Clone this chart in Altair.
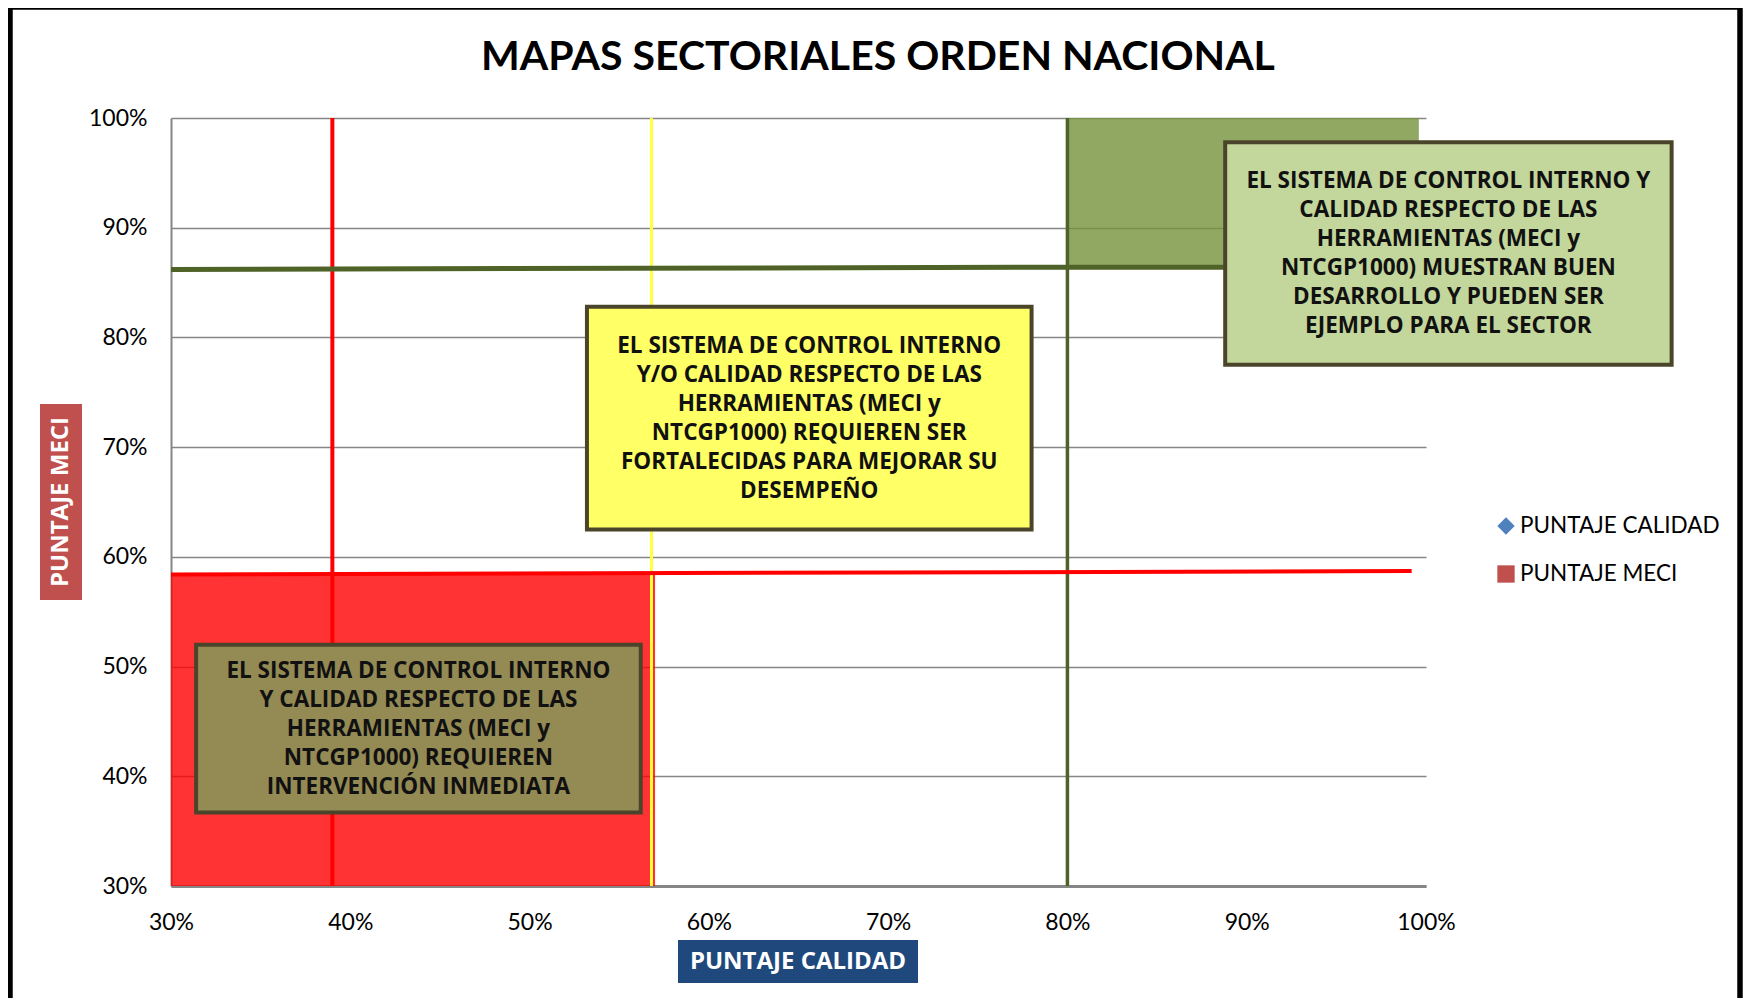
import altair as alt
import pandas as pd

# ---------------- data ----------------
chart_title = "MAPAS SECTORIALES ORDEN NACIONAL"
x_title = "PUNTAJE CALIDAD"
y_title = "PUNTAJE MECI"
tick_values = [0.3, 0.4, 0.5, 0.6, 0.7, 0.8, 0.9, 1.0]
legend_labels = ["PUNTAJE CALIDAD", "PUNTAJE MECI"]
legend_colors = ["#4F81BD", "#C0504D"]
legend_shapes = ["diamond", "square"]

# shaded zones
zone_x = [0.30, 0.80]
zone_x2 = [0.570, 0.996]
zone_y = [0.30, 0.863]
zone_y2 = [0.584, 1.00]
zone_color = ["#FF0000", "#76923C"]

# threshold lines (pairs of points)
red_v_x = [0.39, 0.39]
red_v_y = [1.00, 0.30]
yellow_v_x = [0.568, 0.568]
yellow_v_y = [1.00, 0.30]
green_v_x = [0.80, 0.80]
green_v_y = [1.00, 0.30]
green_h_x = [0.30, 0.80, 0.996]
green_h_y = [0.862, 0.864, 0.864]
red_h_x = [0.30, 0.992]
red_h_y = [0.584, 0.587]

# annotation boxes
box_x = [0.888, 0.532, 0.314]
box_x2 = [1.137, 0.780, 0.562]
box_y = [0.978, 0.828, 0.520]
box_y2 = [0.775, 0.625, 0.367]
box_fill = ["#C3D69B", "#FFFF66", "#948A54"]
box_lines = [
    ["EL SISTEMA DE CONTROL INTERNO Y", "CALIDAD RESPECTO DE LAS", "HERRAMIENTAS (MECI y",
     "NTCGP1000) MUESTRAN BUEN", "DESARROLLO Y PUEDEN SER", "EJEMPLO PARA EL SECTOR"],
    ["EL SISTEMA DE CONTROL INTERNO", "Y/O CALIDAD RESPECTO DE LAS", "HERRAMIENTAS (MECI y",
     "NTCGP1000) REQUIEREN SER", "FORTALECIDAS PARA MEJORAR SU", "DESEMPEÑO"],
    ["EL SISTEMA DE CONTROL INTERNO", "Y CALIDAD RESPECTO DE LAS", "HERRAMIENTAS (MECI y",
     "NTCGP1000) REQUIEREN", "INTERVENCIÓN INMEDIATA"],
]

# ---------------- chart ----------------
W, H = 1255, 768
LH = 29
xs = alt.Scale(domain=[0.3, 1.0], nice=False, zero=False)
ys = alt.Scale(domain=[0.3, 1.0], nice=False, zero=False)

X = lambda f="x": alt.X(f, type="quantitative", scale=xs,
                        axis=alt.Axis(values=tick_values, format=".0%", title=None, grid=False,
                                      ticks=False, domainColor="#868686", domainWidth=3,
                                      labelFont="Lato", labelFontSize=23, labelColor="black",
                                      labelPadding=25, labelFlush=False, labelOverlap=False))
Y = lambda f="y": alt.Y(f, type="quantitative", scale=ys,
                        axis=alt.Axis(values=tick_values, format=".0%", title=None, grid=True,
                                      gridColor="#868686", gridWidth=1.5, ticks=False,
                                      domainColor="#868686", domainWidth=2,
                                      labelFont="Lato", labelFontSize=23, labelColor="black",
                                      labelPadding=24, labelFlush=False, labelOverlap=False))

zones = pd.DataFrame({"x": zone_x, "x2": zone_x2, "y": zone_y, "y2": zone_y2, "c": zone_color})
zone_layer = alt.Chart(zones).mark_rect(opacity=0.8).encode(
    x=X(), x2="x2", y=Y(), y2="y2", color=alt.Color("c:N", scale=None))


def line(xv, yv, color, width):
    df = pd.DataFrame({"x": xv, "y": yv, "o": list(range(len(xv)))})
    return alt.Chart(df).mark_line(color=color, strokeWidth=width, strokeCap="butt").encode(
        x=X(), y=Y(), order="o:Q")


lines = [
    line(red_v_x, red_v_y, "#FF0000", 4),
    line(yellow_v_x, yellow_v_y, "#FFFF3C", 3),
    line(green_v_x, green_v_y, "#4F6228", 3.5),
    line(green_h_x, green_h_y, "#4F6228", 5),
    line(red_h_x, red_h_y, "#FF0000", 4),
]

boxes = pd.DataFrame({"x": box_x, "x2": box_x2, "y": box_y, "y2": box_y2, "fill": box_fill})

shadow_layer = alt.Chart(boxes).mark_rect(color="#000000", opacity=0.22, xOffset=5, yOffset=5).encode(
    x=X(), x2="x2", y=Y(), y2="y2")
box_layer = alt.Chart(boxes).mark_rect(stroke="#4A452A", strokeWidth=4).encode(
    x=X(), x2="x2", y=Y(), y2="y2", fill=alt.Fill("fill:N", scale=None))

text_layers = []
for i, lines_i in enumerate(box_lines):
    n = len(lines_i)
    df = pd.DataFrame({"cx": [(box_x[i] + box_x2[i]) / 2],
                       "cy": [(box_y[i] + box_y2[i]) / 2],
                       "text": ["\n".join(lines_i)]})
    text_layers.append(alt.Chart(df).mark_text(
        font="Open Sans", fontWeight="bold", fontSize=22.5, lineHeight=LH, lineBreak="\n",
        align="center", baseline="middle", color="#111111", yOffset=-(n - 1) / 2 * LH).encode(
        x=X("cx"), y=Y("cy"), text="text:N"))

one = alt.Data(values=[{}])

title_layer = alt.Chart(one).mark_text(
    text=chart_title, font="Lato", fontWeight="bold", fontSize=41, color="black",
    align="center", baseline="middle").encode(x=alt.value(707), y=alt.value(-60))

frame_layer = alt.Chart(one).mark_rect(fillOpacity=0, stroke="black", strokeWidth=5.5).encode(
    x=alt.value(-161), x2=alt.value(1569), y=alt.value(-111), y2=alt.value(930))

ytitle_bg = alt.Chart(one).mark_rect(color="#C0504D").encode(
    x=alt.value(-131), x2=alt.value(-89), y=alt.value(286), y2=alt.value(482))
ytitle_txt = alt.Chart(one).mark_text(
    text=y_title, font="Open Sans", fontWeight="bold", fontSize=24, color="white",
    angle=270, align="center", baseline="middle").encode(x=alt.value(-110), y=alt.value(384))

xtitle_bg = alt.Chart(one).mark_rect(color="#1F497D").encode(
    x=alt.value(507), x2=alt.value(747), y=alt.value(822), y2=alt.value(865))
xtitle_txt = alt.Chart(one).mark_text(
    text=x_title, font="Open Sans", fontWeight="bold", fontSize=24, color="white",
    align="center", baseline="middle").encode(x=alt.value(627), y=alt.value(844))

leg = pd.DataFrame({"label": legend_labels, "color": legend_colors, "shape": legend_shapes,
                    "py": [408, 456]})
leg_sym = alt.Chart(leg).mark_point(filled=True, opacity=1, size=300).encode(
    x=alt.value(1335), y=alt.Y("py:Q", scale=None),
    color=alt.Color("color:N", scale=None), shape=alt.Shape("shape:N", scale=None))
leg_txt = alt.Chart(leg).mark_text(
    font="Lato", fontSize=22.5, color="black", align="left", baseline="middle").encode(
    x=alt.value(1349), y=alt.Y("py:Q", scale=None), text="label:N")

chart = alt.layer(
    zone_layer, *lines, shadow_layer, box_layer, *text_layers,
    title_layer, frame_layer, ytitle_bg, ytitle_txt, xtitle_bg, xtitle_txt, leg_sym, leg_txt,
).properties(
    width=W, height=H,
    autosize=alt.AutoSizeParams(type="none"),
    padding={"left": 163, "top": 110, "right": 317, "bottom": 112},
    background="white",
).configure_view(stroke=None)

chart.save("out.html", embed_options={"renderer": "svg", "actions": False})
